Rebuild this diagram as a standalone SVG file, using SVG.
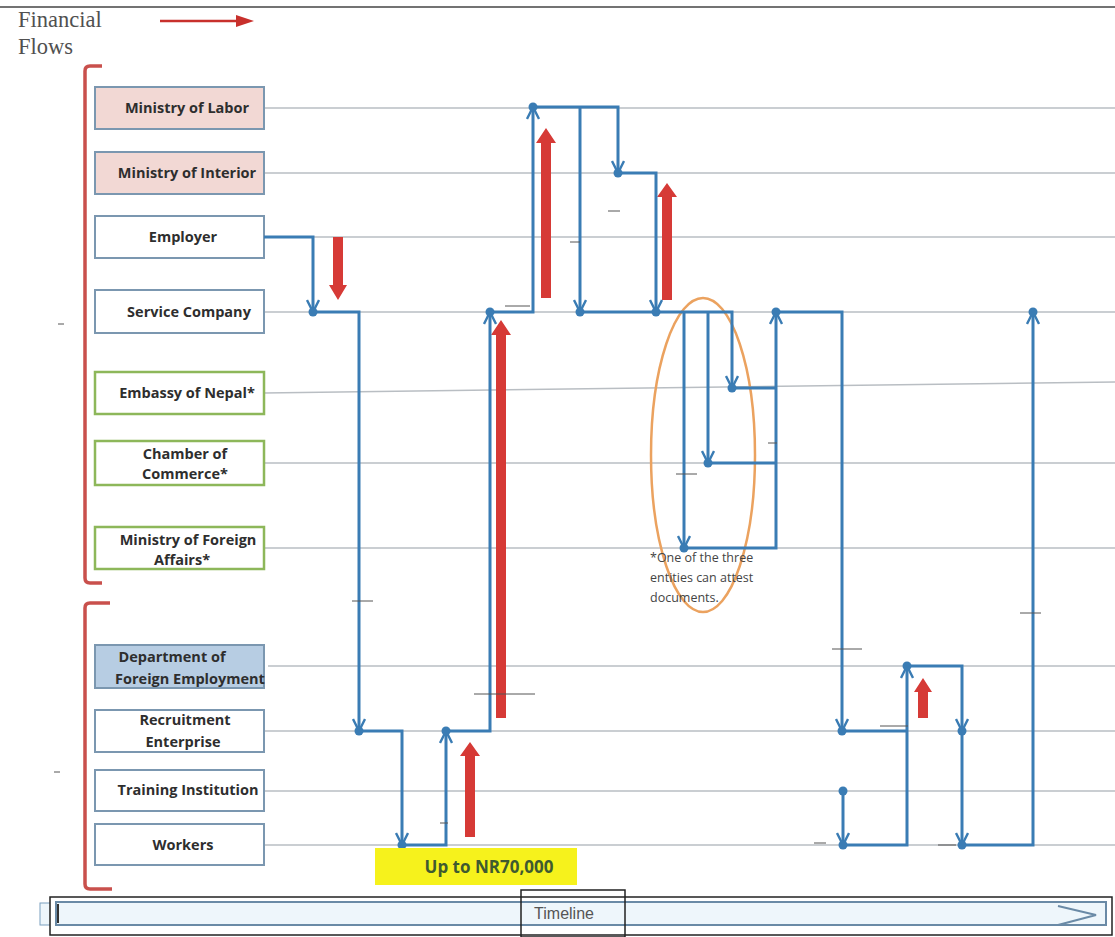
<svg xmlns="http://www.w3.org/2000/svg" width="1115" height="937" viewBox="0 0 1115 937">
<defs>
<style>
.grid{stroke:#b9bec3;stroke-width:1.5;fill:none}
.box{stroke:#7b97b0;stroke-width:2}
.gbox{stroke:#8db75a;stroke-width:2.5;fill:#fff}
.lbl{font-family:"Open Sans","Liberation Sans",sans-serif;font-weight:bold;font-size:14.5px;fill:#2e2e2e;text-anchor:middle}
.flow{stroke:#3a7cb4;stroke-width:3;fill:none}
.dot{fill:#3a7cb4}
.money{fill:#d63a36}
.tick{stroke:#555;stroke-width:1}
</style>
<marker id="ah" viewBox="0 0 14 14" refX="13" refY="7" markerWidth="14" markerHeight="14" markerUnits="userSpaceOnUse" orient="auto">
<path d="M1,1 L13,7 L1,13" fill="none" stroke="#3a7cb4" stroke-width="2.4"/>
</marker>
</defs>
<rect width="1115" height="937" fill="#fff"/>
<line x1="0" y1="7" x2="1115" y2="7" stroke="#444" stroke-width="1.5"/>
<g id="legend">
<text x="18" y="27" font-family="Liberation Serif,serif" font-size="22.5" fill="#505050">Financial</text>
<text x="18" y="54" font-family="Liberation Serif,serif" font-size="22.5" fill="#505050">Flows</text>
<line x1="160" y1="21" x2="238" y2="21" stroke="#c8302c" stroke-width="2.5"/>
<polygon points="236,15 254,21 236,27" fill="#c8302c"/>
</g>
<g id="brackets" fill="none" stroke="#c9504c" stroke-width="3.5">
<path d="M102,66 H90 Q85,66 85,71 V578 Q85,583 90,583 H102"/>
<path d="M110,603 H90 Q85,603 85,608 V884 Q85,889 90,889 H112"/>
</g>
<g id="gridlines">
<line class="grid" x1="264" y1="108" x2="1115" y2="108"/>
<line class="grid" x1="264" y1="173" x2="1115" y2="173"/>
<line class="grid" x1="264" y1="237" x2="1115" y2="237"/>
<line class="grid" x1="264" y1="312" x2="1115" y2="312"/>
<line class="grid" x1="264" y1="393" x2="1115" y2="382"/>
<line class="grid" x1="264" y1="463" x2="1115" y2="463"/>
<line class="grid" x1="264" y1="548" x2="1115" y2="548"/>
<line class="grid" x1="268" y1="666" x2="1115" y2="666"/>
<line class="grid" x1="264" y1="731" x2="1115" y2="731"/>
<line class="grid" x1="264" y1="791" x2="1115" y2="791"/>
<line class="grid" x1="264" y1="845" x2="1115" y2="845"/>
</g>
<g id="n-labor"><rect class="box" x="95" y="87" width="169" height="42" fill="#f2d8d4"/><text class="lbl" x="187" y="113">Ministry of Labor</text></g>
<g id="n-interior"><rect class="box" x="95" y="152" width="169" height="42" fill="#f2d8d4"/><text class="lbl" x="187" y="178">Ministry of Interior</text></g>
<g id="n-employer"><rect class="box" x="95" y="216" width="169" height="42" fill="#fff"/><text class="lbl" x="183" y="242">Employer</text></g>
<g id="n-service"><rect class="box" x="95" y="290" width="169" height="43" fill="#fff"/><text class="lbl" x="189" y="317">Service Company</text></g>
<g id="n-embassy"><rect class="gbox" x="95" y="372" width="169" height="42"/><text class="lbl" x="187" y="398">Embassy of Nepal*</text></g>
<g id="n-chamber"><rect class="gbox" x="95" y="441" width="169" height="44"/><text class="lbl" x="185" y="459">Chamber of</text><text class="lbl" x="185" y="479">Commerce*</text></g>
<g id="n-mofa"><rect class="gbox" x="95" y="527" width="169" height="42"/><text class="lbl" x="188" y="545">Ministry of Foreign</text><text class="lbl" x="182" y="565">Affairs*</text></g>
<g id="n-dofe"><rect class="box" x="95" y="645" width="169" height="43" fill="#b7cde3"/><text class="lbl" x="172" y="662">Department of</text><text class="lbl" x="190" y="684">Foreign Employment</text></g>
<g id="n-recruit"><rect class="box" x="95" y="710" width="169" height="42" fill="#fff"/><text class="lbl" x="185" y="725">Recruitment</text><text class="lbl" x="183" y="747">Enterprise</text></g>
<g id="n-training"><rect class="box" x="95" y="770" width="169" height="41" fill="#fff"/><text class="lbl" x="188" y="795">Training Institution</text></g>
<g id="n-workers"><rect class="box" x="95" y="824" width="169" height="41" fill="#fff"/><text class="lbl" x="183" y="850">Workers</text></g>
<g id="attest-note">
<ellipse cx="703" cy="455" rx="52" ry="157" fill="none" stroke="#eba25f" stroke-width="2.5"/>
<text font-family="Open Sans,Liberation Sans,sans-serif" font-size="12.5" fill="#444"><tspan x="650" y="562">*One of the three</tspan><tspan x="650" y="582">entities can attest</tspan><tspan x="650" y="602">documents.</tspan></text>
</g>
<g id="money-flows">
<polygon class="money" points="333,237 343,237 343,285 347,285 338,300 329,285 333,285"/>
<polygon class="money" points="541,298 551,298 551,143 556,143 546,128 536,143 541,143"/>
<polygon class="money" points="662,300 672,300 672,197 677,197 667,183 657,197 662,197"/>
<polygon class="money" points="496,718 506,718 506,335 511,335 501,320 491,335 496,335"/>
<polygon class="money" points="465,837 475,837 475,756 480,756 470,742 460,756 465,756"/>
<polygon class="money" points="918,718 928,718 928,692 932,692 923,678 914,692 918,692"/>
</g>
<g id="connectors">
<path class="flow" marker-end="url(#ah)" d="M264,237 H313 V312"/>
<path class="flow" marker-end="url(#ah)" d="M313,312 H359 V731"/>
<path class="flow" marker-end="url(#ah)" d="M359,731 H402 V845"/>
<path class="flow" marker-end="url(#ah)" d="M402,845 H446 V731"/>
<path class="flow" marker-end="url(#ah)" d="M446,731 H490 V312"/>
<path class="flow" marker-end="url(#ah)" d="M490,312 H533 V107"/>
<path class="flow" marker-end="url(#ah)" d="M533,107 H618 V173"/>
<path class="flow" marker-end="url(#ah)" d="M580,107 V312"/>
<path class="flow" marker-end="url(#ah)" d="M618,173 H656 V312"/>
<path class="flow" marker-end="url(#ah)" d="M580,312 H732 V388"/>
<path class="flow" marker-end="url(#ah)" d="M708,312 V463"/>
<path class="flow" marker-end="url(#ah)" d="M684,312 V548"/>
<path class="flow" d="M732,388 H776 M708,463 H776"/>
<path class="flow" marker-end="url(#ah)" d="M684,548 H776 V312"/>
<path class="flow" marker-end="url(#ah)" d="M776,312 H842 V731"/>
<path class="flow" d="M842,731 H907"/>
<path class="flow" marker-end="url(#ah)" d="M843,791 V845"/>
<path class="flow" marker-end="url(#ah)" d="M843,845 H907 V666"/>
<path class="flow" marker-end="url(#ah)" d="M907,666 H962 V731"/>
<path class="flow" marker-end="url(#ah)" d="M962,731 V845"/>
<path class="flow" marker-end="url(#ah)" d="M962,845 H1033 V312"/>
<g class="dot">
<circle cx="313" cy="312" r="4.5"/><circle cx="359" cy="731" r="4.5"/><circle cx="402" cy="845" r="4.5"/><circle cx="446" cy="731" r="4.5"/><circle cx="490" cy="312" r="4.5"/><circle cx="533" cy="107" r="4.5"/><circle cx="618" cy="173" r="4.5"/><circle cx="580" cy="312" r="4.5"/><circle cx="656" cy="312" r="4.5"/><circle cx="732" cy="388" r="4.5"/><circle cx="708" cy="463" r="4.5"/><circle cx="684" cy="548" r="4.5"/><circle cx="776" cy="312" r="4.5"/><circle cx="842" cy="731" r="4.5"/><circle cx="843" cy="791" r="4.5"/><circle cx="843" cy="845" r="4.5"/><circle cx="907" cy="666" r="4.5"/><circle cx="962" cy="731" r="4.5"/><circle cx="962" cy="845" r="4.5"/><circle cx="1033" cy="312" r="4.5"/>
</g>
</g>
<g id="ticks">
<line class="tick" x1="58" y1="324" x2="64" y2="324"/>
<line class="tick" x1="54" y1="772" x2="60" y2="772"/>
<line class="tick" x1="352" y1="601" x2="373" y2="601"/>
<line class="tick" x1="474" y1="694" x2="535" y2="694"/>
<line class="tick" x1="440" y1="823" x2="448" y2="823"/>
<line class="tick" x1="505" y1="306" x2="530" y2="306"/>
<line class="tick" x1="570" y1="242" x2="580" y2="242"/>
<line class="tick" x1="608" y1="211" x2="620" y2="211" stroke="#999"/>
<line class="tick" x1="676" y1="474" x2="697" y2="474"/>
<line class="tick" x1="768" y1="443" x2="777" y2="443"/>
<line class="tick" x1="832" y1="649" x2="862" y2="649"/>
<line class="tick" x1="880" y1="726" x2="908" y2="726"/>
<line class="tick" x1="1020" y1="613" x2="1041" y2="613"/>
<line class="tick" x1="814" y1="843" x2="826" y2="843"/>
<line class="tick" x1="938" y1="845" x2="956" y2="845"/>
</g>
<g id="amount">
<rect x="375" y="848" width="202" height="37" fill="#f6f21c"/>
<text x="489" y="873" font-family="Open Sans,Liberation Sans,sans-serif" font-weight="bold" font-size="17" fill="#3f5a30" text-anchor="middle">Up to NR70,000</text>
</g>
<g id="timeline">
<rect x="40" y="903" width="12" height="22" fill="#eef6fb" stroke="#7ba0bf" stroke-width="1"/>
<rect x="50" y="897" width="1062" height="38" fill="#fff" stroke="#222" stroke-width="1.5"/>
<rect x="56" y="902" width="1050" height="23" fill="#eef6fb" stroke="#6a8aa6" stroke-width="2"/>
<line x1="58" y1="904" x2="58" y2="923" stroke="#333" stroke-width="2"/>
<rect x="521" y="890" width="104" height="47" fill="none" stroke="#222" stroke-width="1.5"/>
<text x="564" y="919" font-family="Liberation Sans,Arial,sans-serif" font-size="16" fill="#555" text-anchor="middle">Timeline</text>
<polyline points="1058,906 1096,915 1058,925" fill="none" stroke="#6a8aa6" stroke-width="2"/>
</g>
</svg>
